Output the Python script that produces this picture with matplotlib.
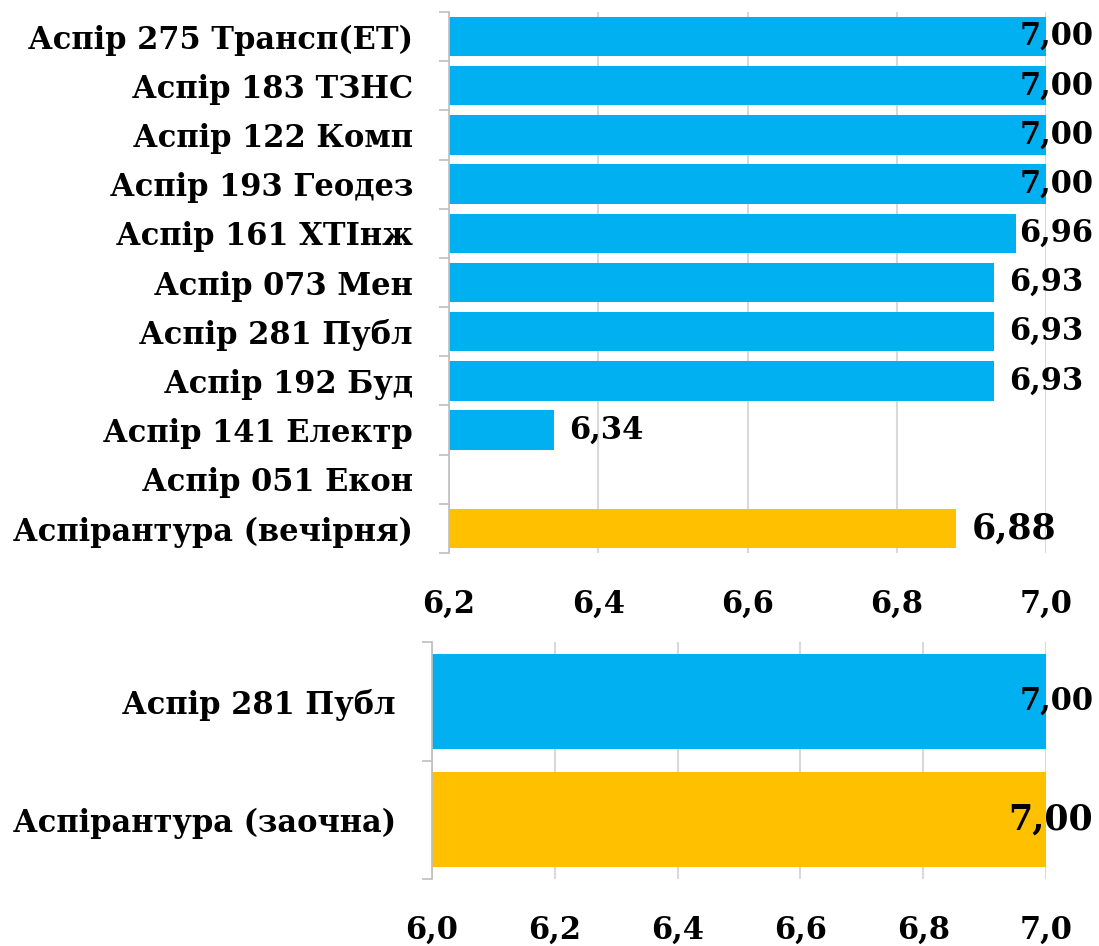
import numpy as np
import matplotlib
matplotlib.use("Agg")
import matplotlib.pyplot as plt

plt.rcParams['font.family'] = ['DejaVu Serif']
plt.rcParams['font.weight'] = 'bold'

# Top chart: evening postgraduate programs
top_labels = ['Аспір 275 Трансп(ЕТ)', 'Аспір 183 ТЗНС', 'Аспір 122 Комп', 'Аспір 193 Геодез',
              'Аспір 161 ХТІнж', 'Аспір 073 Мен', 'Аспір 281 Публ', 'Аспір 192 Буд',
              'Аспір 141 Електр', 'Аспір 051 Екон', 'Аспірантура (вечірня)']
top_values = [7.00, 7.00, 7.00, 7.00, 6.96, 6.93, 6.93, 6.93, 6.34, np.nan, 6.88]
top_is_total = [False] * 10 + [True]
top_ticks = [6.2, 6.4, 6.6, 6.8, 7.0]

# Bottom chart: part-time postgraduate programs
bot_labels = ['Аспір 281 Публ', 'Аспірантура (заочна)']
bot_values = [7.00, 7.00]
bot_is_total = [False, True]
bot_ticks = [6.0, 6.2, 6.4, 6.6, 6.8, 7.0]

BLUE = '#00B0F0'
ORANGE = '#FFC000'
GRID = '#D9D9D9'

fig = plt.figure(figsize=(10.99, 9.46), dpi=100)
ax1 = fig.add_axes([0.4086, 0.4154, 0.5432, 0.5719])
ax2 = fig.add_axes([0.3931, 0.0708, 0.5587, 0.2505])


def draw(ax, labels, values, is_total, ticks, xmin):
    y = np.arange(len(labels))
    colors = [ORANGE if t else BLUE for t in is_total]
    ax.barh(y, values, left=0, height=0.8, color=colors, zorder=2)
    ax.set_xlim(xmin, 7.0)
    ax.set_ylim(len(labels) - 0.5, -0.5)
    ax.set_yticks(y)
    ax.set_yticklabels(labels, fontsize=22, fontweight='bold')
    ax.set_yticks(np.arange(len(labels) + 1) - 0.5, minor=True)
    ax.tick_params(axis='y', which='major', length=0, pad=26)
    ax.tick_params(axis='y', which='minor', length=7, color='#BFBFBF', width=1.2)
    ax.set_xticks(ticks)
    ax.set_xticklabels([f"{t:.1f}".replace('.', ',') for t in ticks], fontsize=22, fontweight='bold')
    ax.tick_params(axis='x', length=0, pad=26)
    ax.grid(axis='x', color=GRID, linewidth=1.5, zorder=0)
    for s in ('top', 'right', 'bottom'):
        ax.spines[s].set_visible(False)
    ax.spines['left'].set_color('#BFBFBF')
    ax.spines['left'].set_linewidth(1.2)
    for yi, v, t in zip(y, values, is_total):
        if np.isnan(v):
            continue
        txt = f"{v:.2f}".replace('.', ',')
        size = 25 if t else 22
        if v >= 6.95:
            ax.annotate(txt, (7.0, yi), xytext=(34, 0), textcoords='offset points',
                        ha='right', va='center', fontsize=size, fontweight='bold', zorder=3)
        else:
            ax.annotate(txt, (v, yi), xytext=(11, 0), textcoords='offset points',
                        ha='left', va='center', fontsize=size, fontweight='bold', zorder=3)


draw(ax1, top_labels, top_values, top_is_total, top_ticks, 6.2)
draw(ax2, bot_labels, bot_values, bot_is_total, bot_ticks, 6.0)

fig.savefig('out.png', dpi=100)
